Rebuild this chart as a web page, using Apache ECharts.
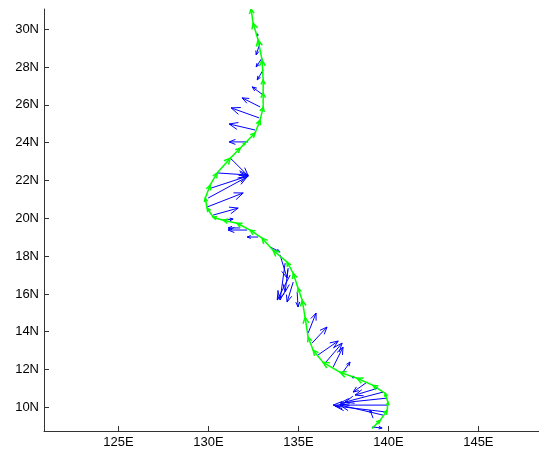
<!DOCTYPE html>
<html>
<head>
<meta charset="utf-8">
<script src="https://cdn.jsdelivr.net/npm/echarts@6/dist/echarts.min.js"></script>
<style>
html, body { margin: 0; padding: 0; background: #fff; }
#chart { width: 539px; height: 452px; }
</style>
</head>
<body>
<div id="chart"></div>
<script>
// ship track, south to north
var trackLon = [139.09, 139.54, 139.93, 139.98, 139.82, 139.15, 138.26, 137.32, 136.37, 135.82,
    135.54, 135.37, 135.21, 134.98, 134.71, 134.37, 133.59, 132.98, 132.32, 131.59,
    130.82, 130.26, 129.93, 129.82, 130.09, 130.48, 131.21, 131.76, 132.04, 132.59,
    132.87, 133.04, 133.04, 133.04, 132.98, 132.76, 132.48, 132.37];
var trackLat = [8.89, 9.31, 9.84, 10.26, 10.74, 11.16, 11.54, 11.85, 12.38, 13.02,
    13.71, 14.76, 15.66, 16.30, 17.09, 17.68, 18.31, 18.95, 19.37, 19.74,
    19.90, 20.06, 20.53, 21.06, 21.75, 22.39, 23.18, 23.71, 23.98, 24.51,
    25.19, 25.88, 26.62, 27.31, 28.37, 29.43, 30.33, 31.07];

// blue vectors: base position and components (degrees)
var vecLon = [139.09, 139.15, 139.71, 139.93, 139.98, 139.93, 139.71, 139.43, 138.82, 138.04,
    137.48, 136.93, 136.48, 136.09, 135.76, 135.54, 134.93, 134.71, 134.54, 134.43,
    134.26, 133.98, 133.43, 132.76, 132.15, 131.76, 130.82, 130.26, 129.93, 129.98,
    130.15, 130.48, 131.21, 132.21, 132.59, 132.82, 132.87, 133.04, 133.04, 132.98,
    132.87, 132.71];
var vecLat = [8.96, 9.43, 9.59, 9.75, 10.12, 10.49, 10.81, 11.02, 11.34, 11.60,
    11.87, 12.13, 12.34, 12.77, 13.40, 13.93, 16.10, 16.63, 17.00, 17.37,
    17.63, 18.06, 18.48, 19.01, 19.38, 19.49, 19.91, 20.17, 20.60, 21.07,
    21.60, 22.40, 23.19, 24.04, 24.67, 25.31, 25.89, 26.52, 27.85, 28.48,
    29.28, 29.70];
var vecU = [0.56, -0.17, -2.39, -2.89, -3.05, -2.61, -2.12, -1.28, -0.78, 0.02,
    0.39, 0.55, 0.95, 1.12, 0.83, 0.44, 0.05, -0.34, -0.72, -0.17,
    -0.28, 0.39, 0.55, -0.61, -1.06, -0.67, 0.55, 1.39, 2.00, 2.17,
    2.06, 1.73, 1.00, -1.06, -1.44, -1.56, -1.00, -0.61, -0.33, -0.33,
    -0.22, 0.02];
var vecV = [-0.05, 0.43, 0.53, 0.32, 0.00, -0.26, -0.53, -0.37, -0.53, 0.02,
    0.53, 1.06, 1.06, 0.74, 0.85, 1.06, -0.79, -1.06, -1.32, -1.27,
    -1.95, -1.22, -0.26, 0.00, 0.00, 0.00, 0.05, 0.37, 0.74, 1.12,
    0.64, -0.11, -0.95, 0.00, 0.32, 0.53, 0.48, 0.43, -0.53, -0.47,
    -0.64, 0.02];

var lonTicks = [125, 130, 135, 140, 145];
var latTicks = [10, 12, 14, 16, 18, 20, 22, 24, 26, 28, 30];

var blueData = vecLon.map(function (x, i) {
    return [x, vecLat[i], vecU[i], vecV[i]];
});
var greenData = [];
for (var i = 0; i < trackLon.length - 1; i++) {
    greenData.push([trackLon[i], trackLat[i], trackLon[i + 1] - trackLon[i], trackLat[i + 1] - trackLat[i]]);
}

// quiver style arrow
function arrowItem(color, width, headMax, ratio) {
    return function (params, api) {
        var p0 = api.coord([api.value(0), api.value(1)]);
        var p1 = api.coord([api.value(0) + api.value(2), api.value(1) + api.value(3)]);
        var dx = p1[0] - p0[0], dy = p1[1] - p0[1];
        var len = Math.sqrt(dx * dx + dy * dy);
        var style = { stroke: color, lineWidth: width, fill: null };
        if (len < 1) {
            return { type: 'circle', shape: { cx: p0[0], cy: p0[1], r: 1.3 }, style: { fill: color } };
        }
        var h = Math.min(len * 0.33, headMax), w = h * ratio;
        var ux = dx / len, uy = dy / len;
        var a = [p1[0] - ux * h - uy * w, p1[1] - uy * h + ux * w];
        var b = [p1[0] - ux * h + uy * w, p1[1] - uy * h - ux * w];
        return {
            type: 'group',
            children: [
                { type: 'line', shape: { x1: p0[0], y1: p0[1], x2: p1[0], y2: p1[1] }, style: style },
                { type: 'polyline', shape: { points: [a, p1, b] }, style: style }
            ]
        };
    };
}

var labelStyle = { color: '#000', fontSize: 13, fontFamily: 'Liberation Sans, Arial, sans-serif' };

var myChart = echarts.init(document.getElementById('chart'));
var option = {
    backgroundColor: '#fff',
    animation: false,
    grid: { left: 44, right: 0, top: 9, bottom: 21 },
    xAxis: {
        type: 'value',
        min: 120.86,
        max: 148.37,
        axisLine: { lineStyle: { color: '#333', width: 1 } },
        axisTick: { inside: true, length: 5, lineStyle: { color: '#333' }, customValues: lonTicks },
        axisLabel: Object.assign({ margin: 5, customValues: lonTicks, formatter: function (v) { return v + 'E'; } }, labelStyle),
        splitLine: { show: false }
    },
    yAxis: {
        type: 'value',
        min: 8.75,
        max: 31.07,
        axisLine: { show: true, lineStyle: { color: '#333', width: 1 } },
        axisTick: { show: true, inside: true, length: 5, lineStyle: { color: '#333' }, customValues: latTicks },
        axisLabel: Object.assign({ margin: 5, customValues: latTicks, formatter: function (v) { return v + 'N'; } }, labelStyle),
        splitLine: { show: false }
    },
    series: [
        {
            type: 'custom',
            name: 'vectors',
            clip: true,
            renderItem: arrowItem('#0000ff', 1, 9, 0.4),
            encode: { x: 0, y: 1 },
            data: blueData
        },
        {
            type: 'custom',
            name: 'track',
            clip: true,
            renderItem: arrowItem('#00ff00', 1.5, 6, 0.5),
            encode: { x: 0, y: 1 },
            data: greenData
        }
    ]
};
myChart.setOption(option);
</script>
</body>
</html>
